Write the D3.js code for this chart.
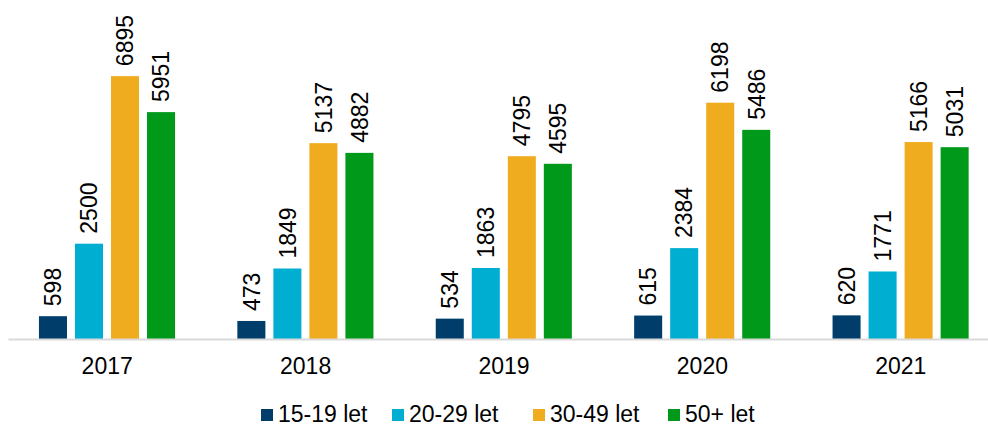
<!DOCTYPE html>
<html>
<head>
<meta charset="utf-8">
<script src="https://cdn.jsdelivr.net/npm/d3@7"></script>
<style>
  body { margin: 0; background: #fff; }
  text { font-family: Arial, "Liberation Sans", sans-serif; fill: #000; }
</style>
</head>
<body>
<div class="Chart"></div>
<script>
// data
var years = ["2017", "2018", "2019", "2020", "2021"];
var seriesNames = ["15-19 let", "20-29 let", "30-49 let", "50+ let"];
var age15_19 = [598, 473, 534, 615, 620];
var age20_29 = [2500, 1849, 1863, 2384, 1771];
var age30_49 = [6895, 5137, 4795, 6198, 5166];
var age50plus = [5951, 4882, 4595, 5486, 5031];
var colors = ["#003d6b", "#00aed1", "#f0ac1f", "#00991a"];

var seriesValues = [age15_19, age20_29, age30_49, age50plus];

var width = 988;
var height = 428;
var baseY = 339;
var fontSize = 23;

var svg = d3.select(".Chart")
            .append("svg")
            .attr("width", width)
            .attr("height", height);

var x0 = d3.scaleBand()
           .domain(years)
           .range([8, 1000])
           .paddingInner(0)
           .paddingOuter(0);

var x1 = d3.scaleBand()
           .domain(seriesNames)
           .range([x0.bandwidth() * 0.156, x0.bandwidth() * 0.842])
           .paddingInner(0.222);

var y = d3.scaleLinear()
          .domain([0, 8000])
          .range([baseY, 34]);

// bars grouped by year
var groups = svg.selectAll("g.year")
                .data(years)
                .enter().append("g")
                .attr("class", "year")
                .attr("transform", function(d){ return "translate(" + x0(d) + ",0)"; });

groups.each(function(yr, yi){
  var g = d3.select(this);
  var rows = seriesNames.map(function(s, si){ return {name: s, value: seriesValues[si][yi], color: colors[si]}; });

  g.selectAll("rect")
   .data(rows)
   .enter().append("rect")
   .attr("x", function(d){ return x1(d.name); })
   .attr("y", function(d){ return y(d.value); })
   .attr("width", x1.bandwidth())
   .attr("height", function(d){ return baseY - y(d.value); })
   .attr("fill", function(d){ return d.color; });

  g.selectAll("text.val")
   .data(rows)
   .enter().append("text")
   .attr("class", "val")
   .attr("font-size", fontSize)
   .attr("dy", "0.36em")
   .attr("transform", function(d){
     return "translate(" + (x1(d.name) + x1.bandwidth() / 2) + "," + (y(d.value) - 10) + ") rotate(-90)";
   })
   .text(function(d){ return d.value; });
});

// x axis
var xAxis = svg.append("g")
               .attr("transform", "translate(0," + baseY + ")")
               .call(d3.axisBottom(x0).tickSize(0).tickPadding(19));
xAxis.select(".domain").attr("stroke", "#d9d9d9").attr("stroke-width", 2);
xAxis.selectAll("text")
     .attr("font-size", fontSize)
     .attr("font-family", "Arial, 'Liberation Sans', sans-serif")
     .attr("fill", "#000");

// legend
var legendX = [261, 392, 533, 668];
var legend = svg.selectAll("g.legend")
                .data(seriesNames)
                .enter().append("g")
                .attr("class", "legend")
                .attr("transform", function(d, i){ return "translate(" + legendX[i] + ",409)"; });

legend.append("rect")
      .attr("width", 12)
      .attr("height", 12)
      .attr("fill", function(d, i){ return colors[i]; });

legend.append("text")
      .attr("x", 17)
      .attr("y", 13)
      .attr("font-size", fontSize)
      .text(function(d){ return d; });
</script>
</body>
</html>
